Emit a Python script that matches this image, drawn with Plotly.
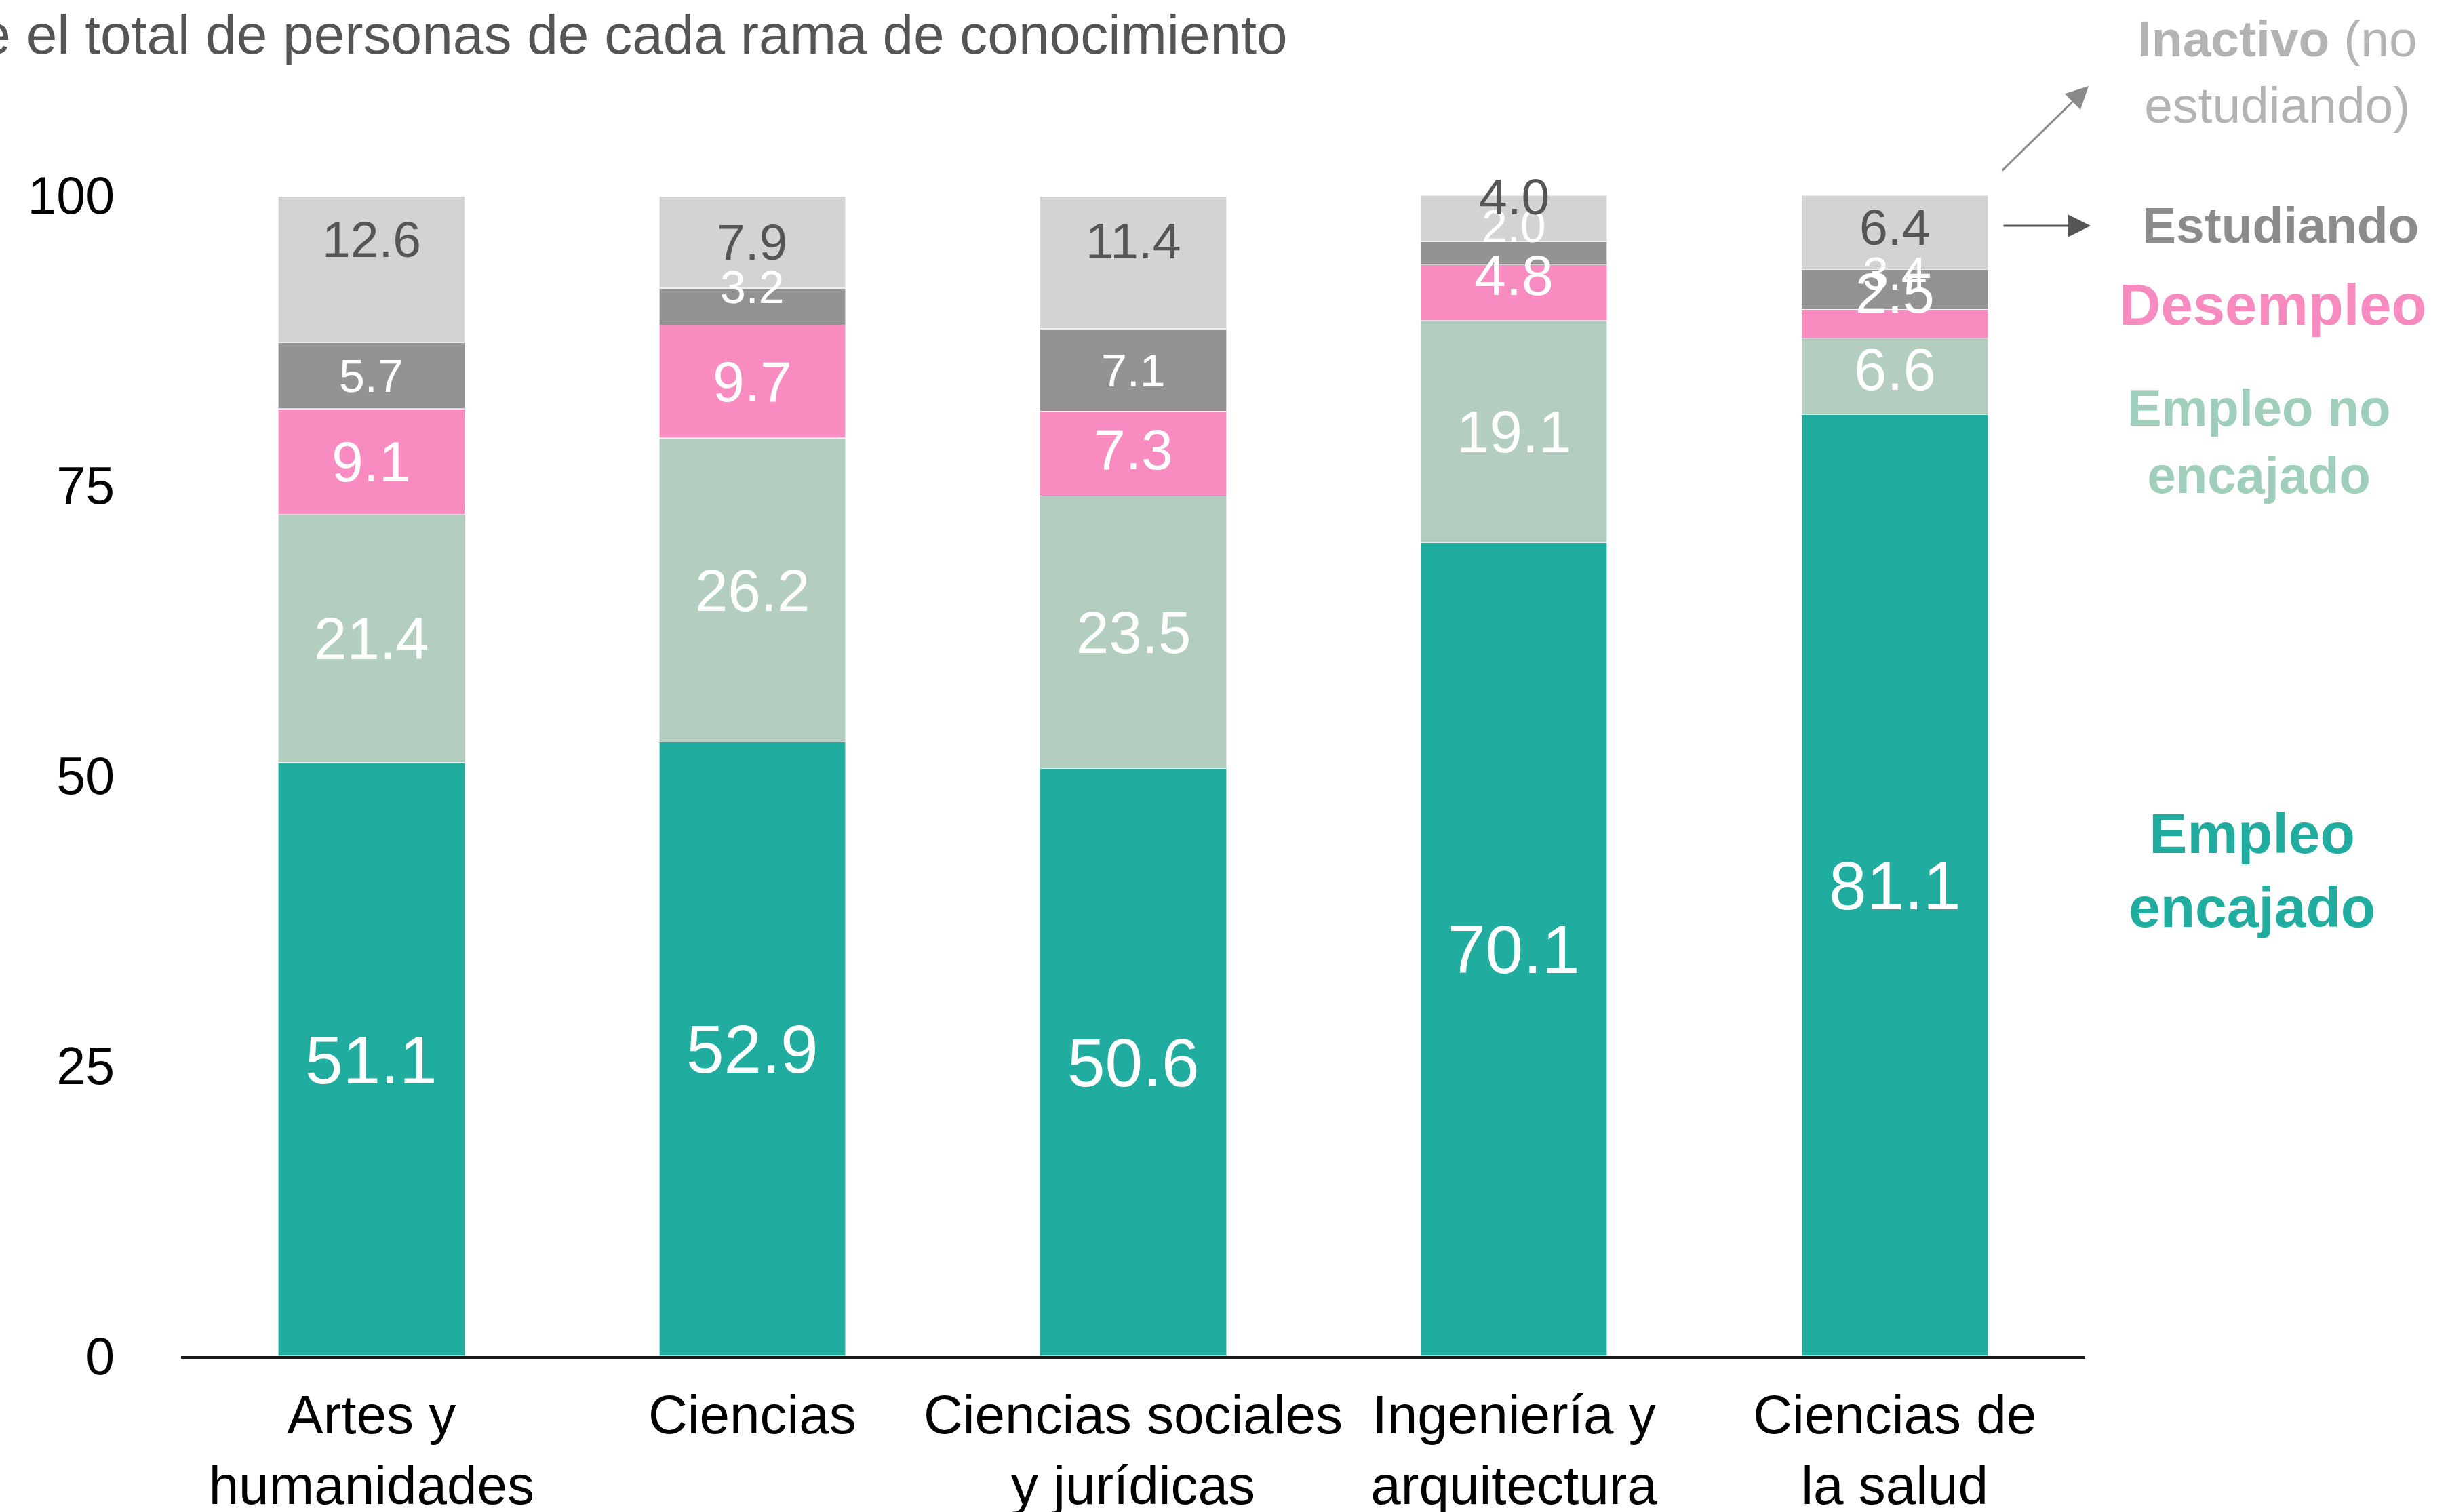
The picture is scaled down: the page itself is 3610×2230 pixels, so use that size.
import plotly.graph_objects as go

# ---------------- data ----------------
categories = ["Artes y<br>humanidades", "Ciencias", "Ciencias sociales<br>y jurídicas",
              "Ingeniería y<br>arquitectura", "Ciencias de<br>la salud"]
series_names = ["Empleo encajado", "Empleo no encajado", "Desempleo", "Estudiando", "Inactivo (no estudiando)"]
empleo_encajado = [51.1, 52.9, 50.6, 70.1, 81.1]
empleo_no_encajado = [21.4, 26.2, 23.5, 19.1, 6.6]
desempleo = [9.1, 9.7, 7.3, 4.8, 2.5]
estudiando = [5.7, 3.2, 7.1, 2.0, 3.4]
inactivo = [12.6, 7.9, 11.4, 4.0, 6.4]
y_ticks = [0, 25, 50, 75, 100]
title_text = "Porcentaje sobre el total de personas de cada rama de conocimiento"

# ---------------- styling ----------------
W, H = 3610, 2230
L, R, T, B = 267, 535, 288, 230
FONT = "Liberation Sans, Arial, Helvetica, sans-serif"
colors = ["#20ad9f", "#b3cebe", "#f88bc0", "#939393", "#d3d3d3"]
label_colors = ["white", "white", "white", "white", "#555555"]
label_sizes = [100, 87, 84, 68, 75]
# vertical nudges of the value labels (data units), one list per series
label_nudge = [
    [0, 0, 0, 0, 0],
    [0, 0, 0, 0, 0.6],
    [0, 0, 0.35, 1.5, 2.65],
    [0, 1.7, 0, 2.4, 1.4],
    [2.6, 0, 1.9, 1.9, 0.45],
]
legend_colors = ["#20ad9f", "#9fcfbb", "#f78bbf", "#8c8c8c", "#b3b3b3"]


def px_x(p):
    return (p - L) / (W - L - R)


def px_y(p):
    return (H - B - p) / (H - T - B)


series = [empleo_encajado, empleo_no_encajado, desempleo, estudiando, inactivo]

fig = go.Figure()
for name, vals, col in zip(series_names, series, colors):
    fig.add_trace(go.Bar(
        x=categories, y=vals, name=name,
        marker=dict(color=col, line=dict(color="rgba(255,255,255,0.6)", width=1.5)),
        hoverinfo="x+y+name",
    ))

annotations = []
# value labels
for j, cat in enumerate(categories):
    base = 0.0
    for i, vals in enumerate(series):
        v = vals[j]
        center = base + v / 2 + label_nudge[i][j]
        annotations.append(dict(
            x=cat, y=center, xref="x", yref="y", text=f"{v:.1f}", showarrow=False,
            font=dict(family=FONT, size=label_sizes[i], color=label_colors[i]),
            xanchor="center", yanchor="middle",
        ))
        base += v

# title (clipped on the left like the original)
annotations.append(dict(
    x=px_x(1901), y=px_y(50), xref="paper", yref="paper", text=title_text,
    showarrow=False, xanchor="right", yanchor="middle",
    font=dict(family=FONT, size=82, color="#555555"),
))

# legend-like labels on the right
legend_items = [
    ("<b>Empleo</b><br><b>encajado</b>", 3321, 1283, 84, 0),
    ("<b>Empleo no</b><br><b>encajado</b>", 3331, 651, 76, 1),
    ("<b>Desempleo</b>", 3352, 449, 85, 2),
    ("<b>Estudiando</b>", 3363, 332, 75, 3),
    ("<b>Inactivo</b> (no<br>estudiando)", 3358, 106, 75, 4),
]
for txt, xx, yy, sz, ci in legend_items:
    annotations.append(dict(
        x=px_x(xx), y=px_y(yy), xref="paper", yref="paper", text=txt, showarrow=False,
        xanchor="center", yanchor="middle", align="center",
        font=dict(family=FONT, size=sz, color=legend_colors[ci]),
    ))

# arrows
annotations.append(dict(
    x=px_x(3080), y=px_y(127), xref="paper", yref="paper", text="", showarrow=True,
    ax=-129, ay=126, arrowhead=2, arrowsize=2.2, arrowwidth=3, arrowcolor="#8a8a8a",
))
annotations.append(dict(
    x=px_x(3083), y=px_y(333), xref="paper", yref="paper", text="", showarrow=True,
    ax=-130, ay=0, arrowhead=2, arrowsize=2.2, arrowwidth=3, arrowcolor="#555555",
))

fig.update_layout(
    width=W, height=H,
    margin=dict(l=L, r=R, t=T, b=B, autoexpand=False),
    paper_bgcolor="white", plot_bgcolor="white",
    barmode="stack", bargap=0.51,
    showlegend=False,
    font=dict(family=FONT, color="#000000"),
    annotations=annotations,
)
fig.update_xaxes(
    type="category", showgrid=False, zeroline=False,
    showline=True, linecolor="#1a1a1a", linewidth=4,
    ticks="", tickfont=dict(family=FONT, size=80, color="#000000"),
    ticklabelstandoff=14,
)
fig.update_yaxes(
    range=[0, 100], tickvals=y_ticks, ticktext=[str(t) for t in y_ticks],
    showgrid=False, zeroline=False, showline=False, ticks="",
    tickfont=dict(family=FONT, size=77, color="#000000"),
    ticklabelstandoff=97,
)

fig.write_html(
    "out.html",
    config={"displayModeBar": False},
    post_script="document.body.style.margin='0';document.body.style.overflow='hidden';",
)
